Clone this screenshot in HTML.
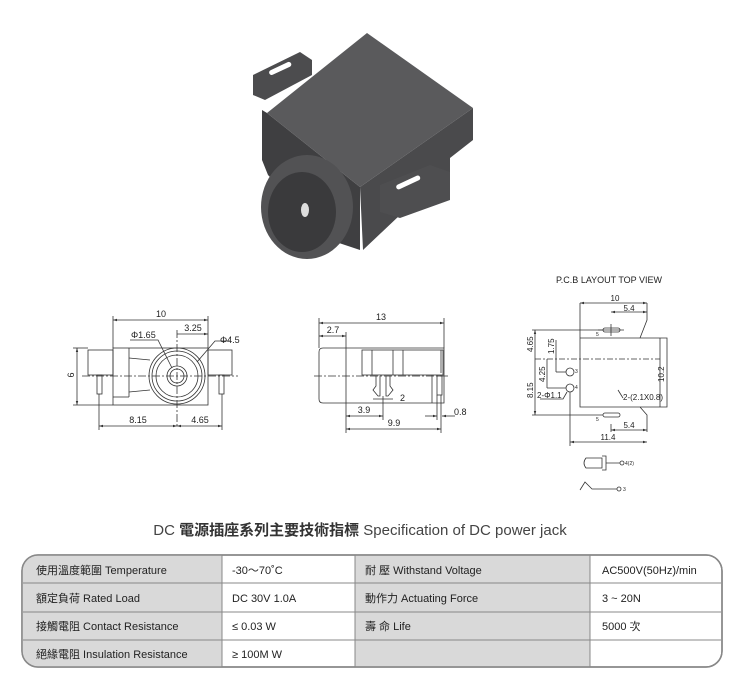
<!DOCTYPE html>
<html><head><meta charset="utf-8"><style>
body{margin:0;background:#fff;width:740px;height:700px;overflow:hidden}
svg{display:block}
text{font-family:"Liberation Sans","Noto Sans CJK TC",sans-serif}
</style></head><body>
<svg width="740" height="700" viewBox="0 0 740 700" xmlns="http://www.w3.org/2000/svg">
<defs>
<marker id="a" viewBox="0 0 10 10" refX="10" refY="5" markerWidth="5" markerHeight="5" orient="auto-start-reverse"><path d="M0,2 L10,5 L0,8z" fill="#333"/></marker>
</defs>
<!-- Photo -->
<g>
<polygon points="253,75 300,52 312,60 312,75 265,100 253,95" fill="#4c4c4e"/>
<rect x="268" y="66" width="24" height="5" rx="2.5" fill="#fff" transform="rotate(-25 280 68)"/>
<polygon points="262,110 267,113 360,187 360,250 330,240 268,175 262,160" fill="#3f3f41"/>
<polygon points="360,187 473,108 473,140 450,158 450,195 400,215 363,250" fill="#4a4a4c"/>
<polygon points="267,113 367,33 473,108 360,187" fill="#5a5a5c"/>
<polygon points="380,185 430,165 450,172 450,200 400,218 380,212" fill="#4e4e50"/>
<rect x="395" y="180" width="26" height="5" rx="2.5" fill="#fff" transform="rotate(-25 408 182)"/>
<ellipse cx="307" cy="207" rx="46" ry="52" fill="#525254"/>
<ellipse cx="302" cy="212" rx="34" ry="40" fill="#3a3a3c"/>
<ellipse cx="305" cy="210" rx="4" ry="7" fill="#ddd"/>
</g>
<g stroke="#333" stroke-width="0.8" fill="none">
<!-- Left drawing -->
<rect x="88" y="350" width="25" height="25"/>
<rect x="208" y="350" width="24" height="25"/>
<rect x="113" y="348" width="95" height="57"/>
<line x1="129" y1="348" x2="129" y2="397"/><line x1="113" y1="397" x2="129" y2="397"/>
<rect x="97" y="375" width="5" height="19"/><rect x="219" y="375" width="5" height="19"/>
<circle cx="177" cy="376" r="28"/><circle cx="177" cy="376" r="25"/><circle cx="177" cy="376" r="21"/>
<circle cx="177" cy="376" r="10"/><circle cx="177" cy="376" r="7"/>
<path d="M129,358 L150,360 M129,392 L150,390"/>
<line x1="82" y1="376" x2="238" y2="376" stroke-dasharray="8,2,2,2"/>
<line x1="177" y1="330" x2="177" y2="428" stroke-dasharray="8,2,2,2"/>
<line x1="113" y1="316" x2="113" y2="348"/><line x1="208" y1="316" x2="208" y2="348"/>
<line x1="113" y1="320" x2="208" y2="320" marker-start="url(#a)" marker-end="url(#a)"/>
<line x1="177" y1="334" x2="208" y2="334" marker-end="url(#a)"/>
<line x1="73" y1="348" x2="88" y2="348"/><line x1="73" y1="405" x2="113" y2="405"/>
<line x1="77" y1="348" x2="77" y2="405" marker-start="url(#a)" marker-end="url(#a)"/>
<line x1="99" y1="394" x2="99" y2="430"/><line x1="222" y1="394" x2="222" y2="430"/>
<line x1="99" y1="426" x2="177" y2="426" marker-start="url(#a)" marker-end="url(#a)"/>
<line x1="177" y1="426" x2="222" y2="426" marker-start="url(#a)" marker-end="url(#a)"/>
<path d="M130,340 L158,340 L172,368"/><path d="M230,341 L215,341 L197,362"/>
<!-- Middle drawing -->
<path d="M323,348 L444,348 L444,403 L323,403 Q319,403 319,399 L319,352 Q319,348 323,348z"/>
<line x1="346" y1="348" x2="346" y2="403"/>
<rect x="362" y="350" width="81" height="25"/>
<line x1="372" y1="350" x2="372" y2="375"/><line x1="393" y1="350" x2="393" y2="375"/><line x1="403" y1="350" x2="403" y2="375"/>
<line x1="441" y1="350" x2="441" y2="373"/>
<line x1="432" y1="375" x2="432" y2="403"/>
<path d="M376,376 L376,386 L373,390 L378,396 L380,396 L380,376 M390,376 L390,386 L393,390 L388,396 L386,396 L386,376"/>
<rect x="437" y="376" width="5" height="19"/>
<line x1="314" y1="376" x2="450" y2="376" stroke-dasharray="8,2,2,2"/>
<line x1="319" y1="318" x2="319" y2="348"/><line x1="444" y1="318" x2="444" y2="348"/><line x1="346" y1="332" x2="346" y2="348"/>
<line x1="319" y1="323" x2="444" y2="323" marker-start="url(#a)" marker-end="url(#a)"/>
<line x1="319" y1="336" x2="346" y2="336" marker-start="url(#a)" marker-end="url(#a)"/>
<line x1="346" y1="403" x2="346" y2="433"/><line x1="383" y1="396" x2="383" y2="420"/><line x1="441" y1="395" x2="441" y2="433"/><line x1="437" y1="395" x2="437" y2="420"/>
<line x1="346" y1="416" x2="383" y2="416" marker-start="url(#a)" marker-end="url(#a)"/>
<line x1="346" y1="429" x2="441" y2="429" marker-start="url(#a)" marker-end="url(#a)"/>
<line x1="373" y1="399" x2="393" y2="399"/>
<line x1="425" y1="416" x2="437" y2="416" marker-end="url(#a)"/><line x1="455" y1="416" x2="442" y2="416" marker-end="url(#a)"/>
<!-- PCB -->
<path d="M580,303 L580,407 L640,407 L647,415 L647,432 M580,338 L640,338 L647,320 L647,303 M640,338 L667,338 L667,407 L640,407"/>
<rect x="603" y="328" width="17" height="4" rx="2"/><rect x="603" y="413" width="17" height="4" rx="2"/>
<line x1="611" y1="324" x2="611" y2="336"/><line x1="598" y1="330" x2="624" y2="330"/>
<circle cx="570" cy="372" r="4"/><circle cx="570" cy="388" r="4"/>
<line x1="535" y1="359" x2="660" y2="359" stroke-dasharray="6,2,2,2"/>
<line x1="580" y1="303" x2="647" y2="303" marker-start="url(#a)" marker-end="url(#a)"/>
<line x1="611" y1="312" x2="647" y2="312" marker-start="url(#a)" marker-end="url(#a)"/>
<line x1="611" y1="424" x2="611" y2="432"/>
<line x1="611" y1="430" x2="647" y2="430" marker-start="url(#a)" marker-end="url(#a)"/>
<line x1="570" y1="392" x2="570" y2="446"/>
<line x1="570" y1="442" x2="647" y2="442" marker-start="url(#a)" marker-end="url(#a)"/>
<line x1="532" y1="330" x2="603" y2="330"/><line x1="532" y1="415" x2="603" y2="415"/>
<line x1="535" y1="330" x2="535" y2="415" marker-start="url(#a)" marker-end="url(#a)"/>
<line x1="556" y1="340" x2="556" y2="372"/><line x1="556" y1="372" x2="566" y2="372"/>
<line x1="547" y1="359" x2="547" y2="388"/><line x1="547" y1="388" x2="566" y2="388"/>
<line x1="660" y1="338" x2="660" y2="407"/>
<path d="M540,399 L563,399 L567,392"/><path d="M618,390 L623,398"/>
<!-- pin symbols -->
<path d="M586,458 L602,458 L602,468 L586,468 Q582,463 586,458z M602,456 L606,456 L606,470 L602,470 M606,463 L620,463"/>
<circle cx="622" cy="463" r="2"/>
<path d="M580,490 L585,482 L592,489 L617,489"/><circle cx="619" cy="489" r="2"/>
</g>
<g font-size="9" fill="#222">
<text x="161" y="317" text-anchor="middle">10</text>
<text x="193" y="331" text-anchor="middle">3.25</text>
<text x="131" y="338">Φ1.65</text>
<text x="220" y="343">Φ4.5</text>
<text x="75" y="378" text-anchor="middle" transform="rotate(-90 73 377)">6</text>
<text x="138" y="423" text-anchor="middle">8.15</text>
<text x="200" y="423" text-anchor="middle">4.65</text>
<text x="381" y="320" text-anchor="middle">13</text>
<text x="333" y="333" text-anchor="middle">2.7</text>
<text x="400" y="401">2</text>
<text x="364" y="413" text-anchor="middle">3.9</text>
<text x="394" y="426" text-anchor="middle">9.9</text>
<text x="454" y="415">0.8</text>
<text x="609" y="283" text-anchor="middle">P.C.B LAYOUT    TOP VIEW</text>
<text x="615" y="301" text-anchor="middle" font-size="8">10</text>
<text x="629" y="311" text-anchor="middle" font-size="8">5.4</text>
<text x="629" y="428" text-anchor="middle" font-size="8">5.4</text>
<text x="608" y="440" text-anchor="middle" font-size="8">11.4</text>
<text x="623" y="400" font-size="8">2-(2.1X0.8)</text>
<text x="537" y="398" font-size="8">2-Φ1.1</text>
<text x="0" y="0" font-size="8" transform="translate(533,352) rotate(-90)">4.65</text>
<text x="0" y="0" font-size="8" transform="translate(533,398) rotate(-90)">8.15</text>
<text x="0" y="0" font-size="8" transform="translate(554,354) rotate(-90)">1.75</text>
<text x="0" y="0" font-size="8" transform="translate(545,382) rotate(-90)">4.25</text>
<text x="0" y="0" font-size="8" transform="translate(664,382) rotate(-90)">10.2</text>
<text x="596" y="336" font-size="5">5</text><text x="596" y="421" font-size="5">5</text>
<text x="575" y="373" font-size="5">3</text><text x="575" y="389" font-size="5">4</text>
<text x="625" y="465" font-size="5">4(2)</text><text x="623" y="491" font-size="5">3</text>
</g>
<text x="360" y="535" text-anchor="middle" font-size="15" fill="#444">DC <tspan font-weight="bold" fill="#333">電源插座系列主要技術指標</tspan> Specification of DC power jack</text>
<!-- table -->
<g>
<rect x="22" y="555" width="700" height="112" rx="16" fill="#fff" stroke="#888" stroke-width="1.5"/>
<path d="M38,555 L222,555 L222,667 L38,667 Q22,667 22,651 L22,571 Q22,555 38,555z" fill="#d9d9d9"/>
<rect x="355" y="556" width="235" height="110" fill="#d9d9d9"/>
<rect x="22" y="555" width="700" height="112" rx="16" fill="none" stroke="#888" stroke-width="1.5"/>
<g stroke="#888" stroke-width="1">
<line x1="222" y1="555" x2="222" y2="667"/><line x1="355" y1="555" x2="355" y2="667"/><line x1="590" y1="555" x2="590" y2="667"/>
<line x1="23" y1="583" x2="721" y2="583"/><line x1="23" y1="612" x2="721" y2="612"/><line x1="23" y1="640" x2="721" y2="640"/>
</g>
<g font-size="11" fill="#222">
<text x="36" y="574">使用溫度範圍 Temperature</text>
<text x="36" y="602">額定負荷  Rated Load</text>
<text x="36" y="630">接觸電阻  Contact Resistance</text>
<text x="36" y="658">絕緣電阻  Insulation Resistance</text>
<text x="232" y="574">-30～70˚C</text>
<text x="232" y="602">DC  30V  1.0A</text>
<text x="232" y="630">≤ 0.03 W</text>
<text x="232" y="658">≥ 100M W</text>
<text x="365" y="574">耐    壓  Withstand Voltage</text>
<text x="365" y="602">動作力  Actuating Force</text>
<text x="365" y="630">壽    命  Life</text>
<text x="602" y="574">AC500V(50Hz)/min</text>
<text x="602" y="602">3 ~ 20N</text>
<text x="602" y="630">5000 次</text>
</g>
</g>
</svg>
</body></html>
